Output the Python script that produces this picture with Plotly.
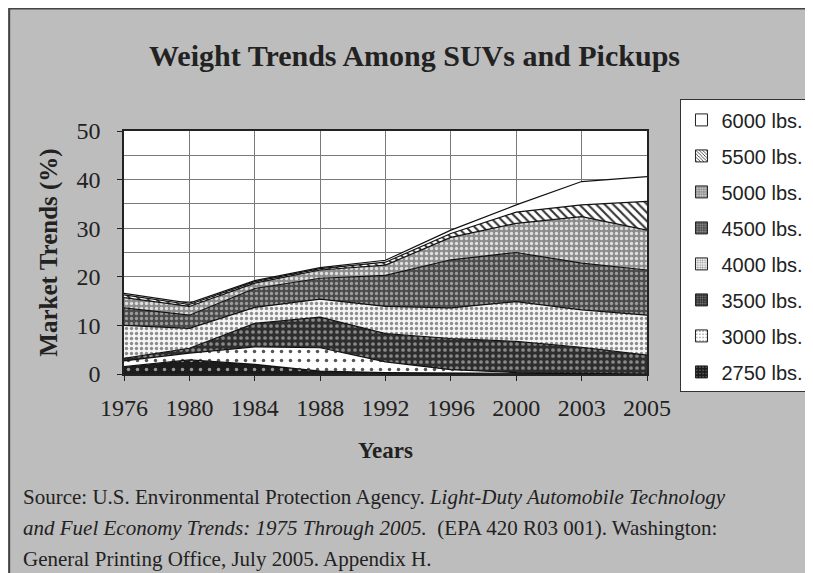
import plotly.graph_objects as go

# Share of SUV / pickup sales by inertia weight class (%)
years = ["1976", "1980", "1984", "1988", "1992", "1996", "2000", "2003", "2005"]

w2750 = [1.5, 2.9, 2.0, 0.6, 0.3, 0.2, 0.1, 0.0, 0.0]
w3000 = [1.2, 1.4, 3.6, 4.8, 2.2, 0.7, 0.2, 0.1, 0.0]
w3500 = [0.5, 1.0, 4.8, 6.3, 5.8, 6.4, 6.4, 5.4, 3.9]
w4000 = [6.8, 4.1, 3.3, 3.7, 5.6, 6.3, 8.2, 7.7, 8.2]
w4500 = [3.6, 2.7, 3.9, 4.3, 6.4, 9.9, 10.1, 9.6, 9.3]
w5000 = [2.1, 1.8, 1.1, 1.7, 2.1, 4.6, 6.0, 9.6, 8.2]
w5500 = [0.6, 0.4, 0.3, 0.3, 0.6, 0.8, 2.3, 2.4, 5.9]
w6000 = [0.3, 0.3, 0.2, 0.2, 0.4, 0.7, 1.5, 4.8, 5.1]

serif = "Liberation Serif, Times New Roman, serif"
sans = "Liberation Sans, Arial, sans-serif"

# name, values, background, pattern shape, pattern colour, pattern size, solidity
layers = [
    ("2750 lbs.", w2750, "#1c1c1c", ".", "#9a9a9a", 9, 0.12),
    ("3000 lbs.", w3000, "#ffffff", ".", "#555555", 9, 0.12),
    ("3500 lbs.", w3500, "#2e2e2e", ".", "#8a8a8a", 6, 0.3),
    ("4000 lbs.", w4000, "#f4f4f4", ".", "#8c8c8c", 5, 0.35),
    ("4500 lbs.", w4500, "#4a4a4a", ".", "#9c9c9c", 5, 0.35),
    ("5000 lbs.", w5000, "#8c8c8c", ".", "#e0e0e0", 5, 0.35),
    ("5500 lbs.", w5500, "#ffffff", "\\", "#333333", 6, 0.35),
    ("6000 lbs.", w6000, "#ffffff", "", "#ffffff", 8, 0.2),
]

fig = go.Figure()
for name, vals, bg, shape, fg, size, sol in layers:
    fig.add_scatter(
        x=years, y=vals, name=name, mode="lines",
        stackgroup="one", showlegend=False,
        line=dict(color="#111111", width=1.2),
        fillcolor=bg,
        fillpattern=dict(shape=shape, bgcolor=bg, fgcolor=fg,
                         size=size, solidity=sol, fillmode="replace"),
    )

# square legend swatches, heaviest class on top
for name, vals, bg, shape, fg, size, sol in reversed(layers):
    fig.add_bar(
        x=[years[0]], y=[None], name=name, legendgroup=name,
        marker=dict(color=bg, line=dict(color="#222", width=1),
                    pattern=dict(shape=shape, bgcolor=bg, fgcolor=fg,
                                 size=max(3, size // 2), solidity=sol,
                                 fillmode="replace")),
    )

fig.update_layout(
    width=813, height=573,
    margin=dict(l=116, r=171, t=123, b=207),
    paper_bgcolor="#bdbdbd",
    plot_bgcolor="white",
    showlegend=True,
    title=dict(text="<b>Weight Trends Among SUVs and Pickups</b>",
               font=dict(family=serif, size=30, color="#222"),
               x=0.5, xanchor="center", y=1 - 47 / 573, yanchor="middle"),
    legend=dict(x=1.064, xanchor="left", y=1.13, yanchor="top",
                bgcolor="white", bordercolor="#333", borderwidth=1,
                font=dict(family=sans, size=20, color="#222"),
                traceorder="grouped", tracegroupgap=7, maxheight=420),
    font=dict(family=serif, color="#222"),
)

fig.update_xaxes(
    type="category", range=[0, 8],
    showgrid=True, gridcolor="#7a7a7a", gridwidth=1,
    showline=True, linecolor="#222", linewidth=1.5, mirror=True,
    ticks="outside", ticklen=5, tickcolor="#222",
    tickfont=dict(family=serif, size=24, color="#222"),
    ticklabelstandoff=6,
    title=dict(text="<b>Years</b>", font=dict(family=serif, size=23, color="#222"),
               standoff=22),
)
fig.update_yaxes(
    range=[0, 50], dtick=10,
    showgrid=True, gridcolor="#7a7a7a", gridwidth=1,
    minor=dict(dtick=5, showgrid=True, gridcolor="#7a7a7a", gridwidth=1),
    showline=True, linecolor="#222", linewidth=1.5, mirror=True,
    ticks="outside", ticklen=5, tickcolor="#222",
    tickfont=dict(family=serif, size=24, color="#222"),
    ticklabelstandoff=12,
    zeroline=False,
    title=dict(text="<b>Market Trends (%)</b>",
               font=dict(family=serif, size=25, color="#222"), standoff=12),
)

# source note below the chart
src = [
    "Source: U.S. Environmental Protection Agency. <i>Light-Duty Automobile Technology</i>",
    "<i>and Fuel Economy Trends: 1975 Through 2005.</i>  (EPA 420 R03 001). Washington:",
    "General Printing Office, July 2005. Appendix H.",
]
for i, line in enumerate(src):
    fig.add_annotation(
        text=line, xref="paper", yref="paper",
        x=(12 - 116) / 526, xanchor="left",
        y=(366 - (489 + 31 * i)) / 243, yanchor="middle",
        showarrow=False, align="left",
        font=dict(family=serif, size=21, color="#222"),
    )

# thin frame around the whole picture
fig.add_shape(type="rect", xref="paper", yref="paper",
              x0=-116 / 526 + 0.001, x1=1 + 171 / 526 - 0.001,
              y0=-207 / 243 + 0.002, y1=1 + 123 / 243 - 0.002,
              line=dict(color="#444", width=2), layer="below")

fig.write_html("out.html")
